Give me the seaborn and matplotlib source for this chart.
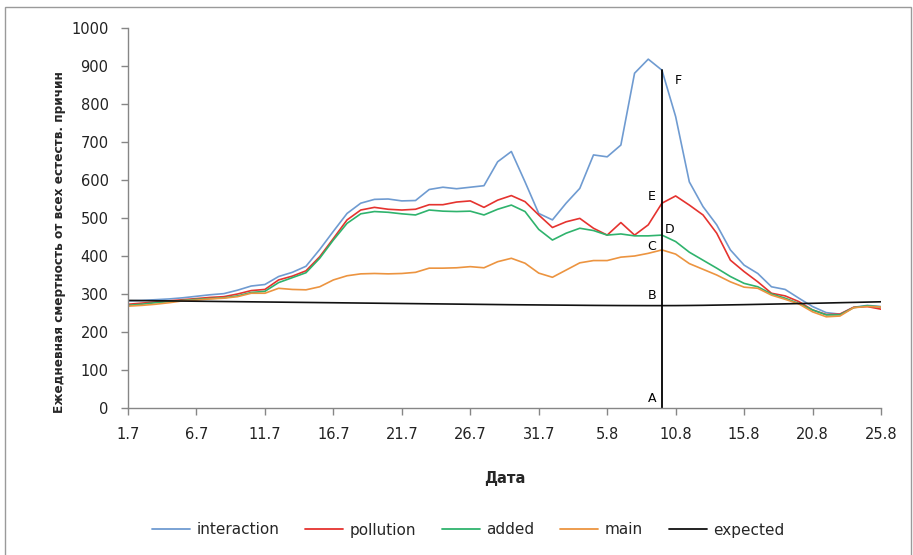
import matplotlib
matplotlib.use("Agg")
import matplotlib.pyplot as plt
from matplotlib.lines import Line2D
from matplotlib.patches import Rectangle
import numpy as np
import pandas as pd
import seaborn as sns

# daily values, 1 July .. 25 August (56 days)
tick_labels = ["1.7", "6.7", "11.7", "16.7", "21.7", "26.7", "31.7",
               "5.8", "10.8", "15.8", "20.8", "25.8"]

interaction = [282, 283, 285, 287, 290, 294, 298, 301, 310, 321, 325, 346, 357, 373,
               417, 465, 512, 539, 549, 550, 545, 546, 575, 581, 577, 581, 585, 648,
               675, 595, 512, 495, 539, 578, 666, 661, 692, 881, 918, 889, 767, 595,
               530, 482, 416, 376, 354, 319, 312, 289, 267, 251, 247, 265, 270, 267]
pollution = [273, 276, 279, 282, 285, 288, 291, 293, 300, 309, 312, 337, 347, 361,
             398, 446, 495, 521, 528, 523, 521, 523, 535, 535, 542, 545, 528, 547,
             559, 543, 508, 475, 490, 499, 473, 455, 488, 455, 482, 539, 558, 534,
             508, 460, 389, 359, 332, 302, 295, 280, 258, 246, 247, 265, 267, 260]
added = [270, 273, 277, 280, 283, 286, 288, 290, 295, 304, 307, 330, 343, 356,
         394, 442, 486, 511, 517, 515, 511, 508, 521, 518, 517, 518, 508, 523,
         534, 517, 470, 442, 460, 473, 467, 455, 458, 453, 453, 455, 438, 410,
         389, 368, 346, 328, 319, 300, 289, 275, 258, 245, 245, 264, 269, 266]
main = [268, 270, 273, 277, 282, 284, 287, 289, 293, 302, 302, 315, 312, 311,
        319, 337, 348, 353, 354, 353, 354, 357, 368, 368, 369, 372, 369, 385,
        394, 381, 355, 344, 363, 382, 388, 388, 397, 400, 407, 416, 405, 380,
        365, 350, 332, 318, 315, 297, 286, 274, 253, 240, 242, 264, 267, 266]
expected = [283.0, 282.6, 282.2, 281.8, 281.4, 281.0, 280.6, 280.2, 279.8, 279.4,
            279.0, 278.6, 278.2, 277.8, 277.4, 277.0, 276.6, 276.2, 275.8, 275.4,
            275.0, 274.6, 274.2, 273.8, 273.4, 273.0, 272.6, 272.2, 271.8, 271.5,
            271.2, 270.9, 270.6, 270.3, 270.0, 269.8, 269.6, 269.5, 269.4, 269.4,
            269.5, 269.8, 270.2, 270.8, 271.4, 272.0, 272.7, 273.4, 274.1, 274.8,
            275.5, 276.3, 277.1, 277.9, 278.7, 279.5]

series_names = ["interaction", "pollution", "added", "main", "expected"]
series_values = [interaction, pollution, added, main, expected]
palette = {
    "interaction": "#6f9bd1",
    "pollution": "#e5332f",
    "added": "#2fb36d",
    "main": "#ec9440",
    "expected": "#111111",
}

marker_day = 39  # 9 August

days = np.arange(len(interaction))
df = pd.DataFrame({
    "day": np.tile(days, len(series_names)),
    "value": np.concatenate(series_values),
    "series": np.repeat(series_names, len(days)),
})

sns.set_theme(style="white")
plt.rcParams["font.family"] = ["DejaVu Sans"]

W, H = 913, 555
fig = plt.figure(figsize=(W / 100, H / 100), dpi=100)
ax = fig.add_axes([128 / W, (H - 408) / H, 753 / W, 380 / H])

sns.lineplot(data=df, x="day", y="value", hue="series", hue_order=series_names,
             palette=palette, linewidth=1.2, sort=False, legend=False, ax=ax)

# vertical marker line and letters
ax.plot([marker_day, marker_day], [0, interaction[marker_day]], color="black", lw=1.3)
letters = [
    ("A", 0, (-10, 9)),
    ("B", expected[marker_day], (-10, 10)),
    ("C", main[marker_day], (-10, 3)),
    ("D", added[marker_day], (8, 6)),
    ("E", pollution[marker_day], (-10, 7)),
    ("F", interaction[marker_day], (16, -10)),
]
for letter, yv, off in letters:
    ax.annotate(letter, (marker_day, yv), xytext=off, textcoords="offset pixels",
                ha="center", va="center", fontsize=9, color="black")

ax.set_xlim(0, 55)
ax.set_ylim(0, 1000)
ax.set_xticks(np.arange(0, 56, 5))
ax.set_xticklabels(tick_labels)
ax.set_yticks(np.arange(0, 1001, 100))

axis_color = "#868686"
for side in ["top", "right"]:
    ax.spines[side].set_visible(False)
for side in ["left", "bottom"]:
    ax.spines[side].set_color(axis_color)
    ax.spines[side].set_linewidth(1.0)
ax.tick_params(axis="both", direction="out", length=5, width=1.0, color=axis_color,
               labelsize=10.5, labelcolor="#222222")
ax.tick_params(axis="x", pad=9)
ax.tick_params(axis="y", pad=9)
ax.tick_params(left=True, bottom=True)

ax.set_xlabel("Дата", fontsize=10.5, fontweight="bold")
ax.xaxis.set_label_coords(0.5, -0.165)
ax.set_ylabel("Ежедневная смертность от всех естеств. причин", fontsize=8.7,
              fontweight="bold")
ax.yaxis.set_label_coords(-0.082, 0.437)

handles = [Line2D([], [], color=palette[n], lw=1.3) for n in series_names]
fig.legend(handles, series_names, loc="center", bbox_to_anchor=(468 / W, 1 - 530 / H),
           ncol=5, frameon=False, fontsize=11, handlelength=2.5, handletextpad=0.4,
           columnspacing=1.7)

fig.patches.append(Rectangle((5 / W, -0.02), 906 / W, 1 - 7 / H + 0.02,
                             transform=fig.transFigure, fill=False,
                             edgecolor="#9a9a9a", lw=1.0))

fig.savefig("out.png", dpi=100)
